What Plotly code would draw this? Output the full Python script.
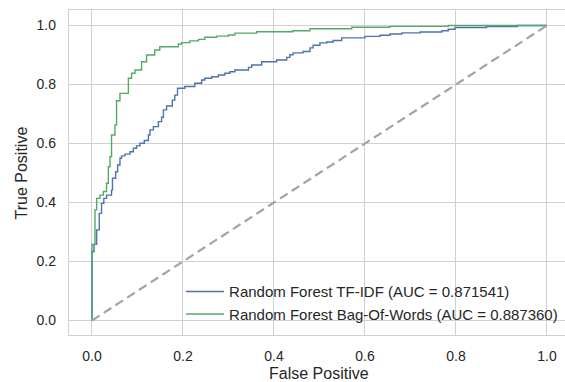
import plotly.graph_objects as go

# ---- data ----
tfidf_fpr = [0.0, 0.0, 0.0044, 0.0103, 0.016, 0.021, 0.026, 0.032, 0.043, 0.045,
             0.052, 0.0564, 0.0615, 0.065, 0.0725, 0.0835, 0.091, 0.098, 0.1055, 0.115,
             0.124, 0.1275, 0.135, 0.146, 0.153, 0.157, 0.164, 0.1765, 0.182, 0.188,
             0.204, 0.226, 0.241, 0.248, 0.263, 0.278, 0.292, 0.303, 0.314, 0.344,
             0.351, 0.373, 0.406, 0.428, 0.435, 0.442, 0.464, 0.479, 0.486, 0.501,
             0.516, 0.530, 0.549, 0.600, 0.633, 0.655, 0.681, 0.721, 0.769, 0.783,
             0.798, 0.867, 0.935, 1.0]
tfidf_tpr = [0.0, 0.233, 0.258, 0.307, 0.363, 0.397, 0.414, 0.425, 0.442, 0.482,
             0.504, 0.527, 0.550, 0.558, 0.564, 0.572, 0.584, 0.592, 0.601, 0.610,
             0.629, 0.646, 0.657, 0.674, 0.689, 0.714, 0.727, 0.747, 0.764, 0.787,
             0.793, 0.804, 0.815, 0.821, 0.826, 0.832, 0.838, 0.843, 0.849, 0.858,
             0.866, 0.877, 0.883, 0.892, 0.901, 0.907, 0.912, 0.924, 0.933, 0.941,
             0.944, 0.949, 0.958, 0.963, 0.967, 0.971, 0.975, 0.978, 0.982, 0.987,
             0.993, 0.996, 1.0, 1.0]

bow_fpr = [0.0, 0.0, 0.0066, 0.0103, 0.0176, 0.025, 0.032, 0.036, 0.0396, 0.043,
           0.0505, 0.054, 0.0615, 0.080, 0.087, 0.0945, 0.109, 0.120, 0.138, 0.149,
           0.190, 0.197, 0.215, 0.234, 0.248, 0.274, 0.300, 0.314, 0.362, 0.442,
           0.479, 0.571, 0.655, 0.783, 1.0]
bow_tpr = [0.0, 0.258, 0.375, 0.414, 0.425, 0.437, 0.465, 0.521, 0.555, 0.629,
           0.663, 0.745, 0.770, 0.821, 0.838, 0.849, 0.877, 0.900, 0.917, 0.928,
           0.937, 0.942, 0.948, 0.953, 0.960, 0.964, 0.968, 0.974, 0.979, 0.982,
           0.989, 0.994, 0.997, 1.0, 1.0]

chance_x = [0.0, 1.0]
chance_y = [0.0, 1.0]

series_names = ["Random Forest TF-IDF (AUC = 0.871541)",
                "Random Forest Bag-Of-Words (AUC = 0.887360)"]
x_title = "False Positive"
y_title = "True Positive"
tick_vals = [0.0, 0.2, 0.4, 0.6, 0.8, 1.0]
tick_text = ["0.0", "0.2", "0.4", "0.6", "0.8", "1.0"]

BLUE = "#4C72B0"
GREEN = "#55A868"
TXT = "#262626"
GRID = "#d0d0d0"
FONT = "Liberation Sans, Arial, sans-serif"

fig = go.Figure()
fig.add_trace(go.Scatter(x=tfidf_fpr, y=tfidf_tpr, mode="lines", line_shape="hv",
                         name=series_names[0], line=dict(color=BLUE, width=1.4)))
fig.add_trace(go.Scatter(x=bow_fpr, y=bow_tpr, mode="lines", line_shape="hv",
                         name=series_names[1], line=dict(color=GREEN, width=1.4)))
fig.add_trace(go.Scatter(x=chance_x, y=chance_y, mode="lines", showlegend=False,
                         line=dict(color="#a3a3a3", width=2.2, dash="9px,5px")))

fig.update_layout(
    width=565, height=382,
    margin=dict(l=69, r=0, t=10, b=47, autoexpand=False),
    paper_bgcolor="white", plot_bgcolor="white",
    font=dict(family=FONT, color=TXT, size=14),
    legend=dict(x=0.226, y=0.184, xanchor="left", yanchor="top",
                bgcolor="rgba(0,0,0,0)", font=dict(size=15, color=TXT),
                tracegroupgap=0, itemwidth=38),
    showlegend=True,
    annotations=[
        dict(text=x_title, xref="paper", yref="paper", x=0.505, y=-0.117,
             xanchor="center", yanchor="middle", showarrow=False,
             font=dict(size=16, color=TXT, family=FONT)),
        dict(text=y_title, xref="paper", yref="paper", x=-0.0948, y=0.5,
             xanchor="center", yanchor="middle", showarrow=False, textangle=-90,
             font=dict(size=16, color=TXT, family=FONT)),
    ],
)
fig.update_xaxes(range=[-0.0505, 1.0396], tickvals=tick_vals, ticktext=tick_text,
                 automargin=False,
                 showgrid=True, gridcolor=GRID, gridwidth=1.3, zeroline=False,
                 showline=True, linecolor=GRID, linewidth=1.3, mirror=True,
                 ticks="", ticklabelstandoff=8, tickfont=dict(size=14))
fig.update_yaxes(range=[-0.0492, 1.0525], tickvals=tick_vals, ticktext=tick_text,
                 automargin=False,
                 showgrid=True, gridcolor=GRID, gridwidth=1.3, zeroline=False,
                 showline=True, linecolor=GRID, linewidth=1.3, mirror=False,
                 ticks="", ticklabelstandoff=9, tickfont=dict(size=14))

fig.write_html("out.html", config={"displayModeBar": False},
               post_script="document.body.style.margin='0';")
